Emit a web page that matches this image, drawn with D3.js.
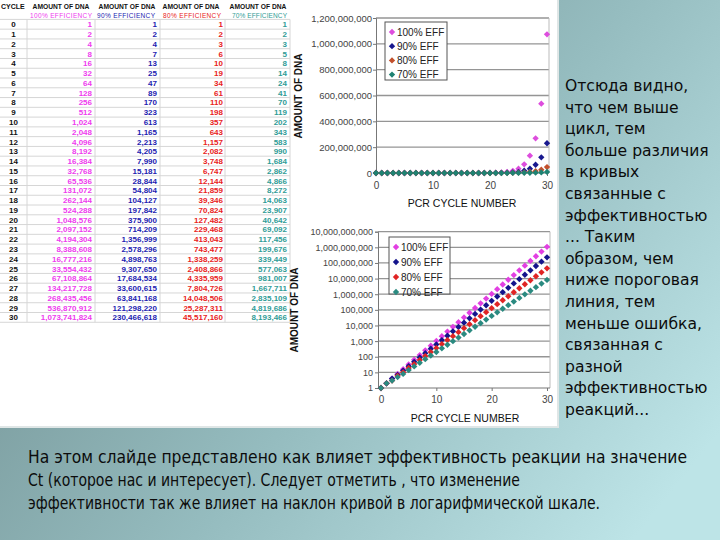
<!DOCTYPE html>
<html><head><meta charset="utf-8">
<script src="https://cdn.jsdelivr.net/npm/d3@7"></script>
<style>body{margin:0;background:#fff}svg{display:block}</style>
</head><body>
<svg id="c" width="720" height="540"></svg>
<script>
// ---------- DATA ----------
const cycles = [0,1,2,3,4,5,6,7,8,9,10,11,12,13,14,15,16,17,18,19,20,21,22,23,24,25,26,27,28,29,30];
const eff100 = [1,2,4,8,16,32,64,128,256,512,1024,2048,4096,8192,16384,32768,65536,131072,262144,524288,1048576,2097152,4194304,8388608,16777216,33554432,67108864,134217728,268435456,536870912,1073741824];
const eff90 = [1,2,4,7,13,25,47,89,170,323,613,1165,2213,4205,7990,15181,28844,54804,104127,197842,375900,714209,1356999,2578296,4898763,9307650,17684534,33600615,63841168,121298220,230466618];
const eff80 = [1,2,3,6,10,19,34,61,110,198,357,643,1157,2082,3748,6747,12144,21859,39346,70824,127482,229468,413043,743477,1338259,2408866,4335959,7804726,14048506,25287311,45517160];
const eff70 = [1,2,3,5,8,14,24,41,70,119,202,343,583,990,1684,2862,4866,8272,14063,23907,40642,69092,117456,199676,339449,577063,981007,1667711,2835109,4819686,8193466];
const seriesNames = ["100% EFF","90% EFF","80% EFF","70% EFF"];
const tableHeads = ["100% EFFICIENCY","90% EFFICIENCY","80% EFFICIENCY","70% EFFICIENCY"];
const linearTicks = [0,200000000,400000000,600000000,800000000,1000000000,1200000000];
const logTicks = [1,10,100,1000,10000,100000,1000000,10000000,100000000,1000000000,10000000000];
const xTicks = [0,10,20,30];
const axisTitleX = "PCR CYCLE NUMBER";
const axisTitleY = "AMOUNT OF DNA";
const sideText = ["Отсюда видно,","что чем выше","цикл, тем","больше различия","в кривых","связанные с","эффективностью","... Таким","образом, чем","ниже пороговая","линия, тем","меньше ошибка,","связанная с","разной","эффективностью","реакций..."];
const bottomText = ["На этом слайде представлено как влияет эффективность реакции на значение","Ct (которое нас и интересует). Следует отметить , что изменение","эффективности так же влияет на  наклон кривой в логарифмической шкале."];

const allSeries = [eff100, eff90, eff80, eff70];
const tableColors = ["#ee3cee","#1c1cb0","#e82222","#2f9c96"];
const topColors = ["#dd4ddd","#18188e","#c2502c","#1f8272"];
const botColors = ["#e23fe2","#14148c","#e02424","#2a8a80"];

const svg = d3.select("#c");
const defs = svg.append("defs");
const grad = defs.append("linearGradient").attr("id","bg").attr("x1","0").attr("y1","0.2").attr("x2","1").attr("y2","0.8");
grad.append("stop").attr("offset","0").attr("stop-color","#6f8d8f");
grad.append("stop").attr("offset","0.55").attr("stop-color","#95bcbf");
grad.append("stop").attr("offset","1").attr("stop-color","#bde4e7");
svg.append("rect").attr("width",720).attr("height",540).attr("fill","url(#bg)");
svg.append("rect").attr("x",0).attr("y",0).attr("width",559).attr("height",428).attr("fill","#dfe6e6");
svg.append("rect").attr("x",0).attr("y",0).attr("width",557).attr("height",426).attr("fill","#fff");

// ---------- TABLE ----------
const fmt = d3.format(",");
const tbl = svg.append("g").attr("font-family","'Liberation Sans',Arial,sans-serif").attr("font-weight","bold");
const colRight = [92,157,223,287];
const colDiv = [27,95,160,225,290];
const rowTop = 19.4, rowH = 9.77;
cycles.concat([31]).forEach((c,i)=>{
  tbl.append("line").attr("x1",0).attr("x2",290).attr("y1",rowTop+rowH*i).attr("y2",rowTop+rowH*i).attr("stroke","#d6d6d6").attr("stroke-width",1);
});
colDiv.forEach(x=>tbl.append("line").attr("x1",x).attr("x2",x).attr("y1",rowTop).attr("y2",rowTop+rowH*31).attr("stroke","#d6d6d6"));
tbl.append("text").attr("x",1).attr("y",9).attr("font-size",7).attr("fill","#111").text("CYCLE");
const headCenter = [61,127,191,258];
headCenter.forEach(cx=>tbl.append("text").attr("x",cx).attr("y",9).attr("text-anchor","middle").attr("font-size",6.7).attr("fill","#111").text(axisTitleY));
const subSpan = [[30,92],[97,155],[163,221],[232,287]];
subSpan.forEach((s,k)=>tbl.append("text").attr("x",s[0]).attr("y",17.5).attr("font-size",6.5).attr("font-weight","normal").attr("textLength",s[1]-s[0]).attr("lengthAdjust","spacing").attr("fill",tableColors[k]).text(tableHeads[k]));
cycles.forEach((c,i)=>{
  const y = rowTop + rowH*i + rowH/2 + 3;
  tbl.append("text").attr("x",13.5).attr("y",y).attr("text-anchor","middle").attr("font-size",8).attr("fill","#111").text(c);
  allSeries.forEach((s,k)=>{
    tbl.append("text").attr("x",colRight[k]).attr("y",y).attr("text-anchor","end").attr("font-size",8).attr("fill",tableColors[k]).text(fmt(s[i]));
  });
});

// ---------- CHART HELPERS ----------
const diamond = d3.symbol(d3.symbolSquare, 20);
function legend(gp, x, y, w, h, pitch, colors){
  const lg = gp.append("g");
  lg.append("rect").attr("x",x).attr("y",y).attr("width",w).attr("height",h).attr("fill","#fff").attr("stroke","#555").attr("stroke-width",1);
  seriesNames.forEach((n,k)=>{
    const cy = y + 10 + pitch*k;
    lg.append("path").attr("d",diamond()).attr("transform",`translate(${x+7},${cy}) rotate(45)`).attr("fill",colors[k]);
    lg.append("text").attr("x",x+12).attr("y",cy+3.5).attr("font-size",10).attr("fill","#222").text(n);
  });
}
const font = "'Liberation Sans',Arial,sans-serif";

// ---------- TOP CHART (linear) ----------
const topG = svg.append("g").attr("font-family",font);
const xT = d3.scaleLinear().domain([0,30]).range([376,547]);
const yT = d3.scaleLinear().domain([0,1200000000]).range([173,18]);
topG.append("g").selectAll("line").data(linearTicks.slice(1)).join("line")
  .attr("x1",376).attr("x2",549).attr("y1",d=>yT(d)).attr("y2",d=>yT(d)).attr("stroke","#959595").attr("stroke-width",1.3);
topG.append("line").attr("x1",549).attr("x2",549).attr("y1",18).attr("y2",173).attr("stroke","#bbb");
topG.append("g").attr("transform","translate(0,173)").call(d3.axisBottom(xT).tickValues(xTicks).tickSize(3).tickPadding(6))
  .call(a=>{a.select(".domain").attr("stroke","#777").attr("d","M376,0H549");a.selectAll("line").attr("stroke","#777");a.selectAll("text").attr("font-size",10).attr("font-family",font).attr("fill","#444");});
topG.append("g").attr("transform","translate(376,0)").call(d3.axisLeft(yT).tickValues(linearTicks).tickFormat(fmt).tickSize(3).tickPadding(1))
  .call(a=>{a.select(".domain").attr("stroke","#777");a.selectAll("line").attr("stroke","#777");a.selectAll("text").attr("font-size",9.5).attr("font-family",font).attr("fill","#444");});
allSeries.forEach((s,k)=>{
  topG.append("g").selectAll("path").data(cycles).join("path").attr("d",diamond())
    .attr("transform",(c,i)=>`translate(${xT(c)},${yT(s[i])}) rotate(45)`).attr("fill",topColors[k]);
});
legend(topG,385,22,62,58,14.2,topColors);
topG.append("text").attr("x",462).attr("y",207).attr("text-anchor","middle").attr("font-size",10.5).attr("fill","#111").text(axisTitleX);
topG.append("text").attr("transform","translate(302,96) rotate(-90)").attr("text-anchor","middle").attr("font-size",10).attr("font-weight","bold").attr("fill","#111").text(axisTitleY);

// ---------- BOTTOM CHART (log) ----------
const botG = svg.append("g").attr("font-family",font);
const xB = d3.scaleLinear().domain([0,30]).range([381,547]);
const yB = d3.scaleLog().domain([1,10000000000]).range([388,231.7]);
botG.append("g").selectAll("line").data(logTicks.slice(1)).join("line")
  .attr("x1",378).attr("x2",550).attr("y1",d=>yB(d)).attr("y2",d=>yB(d)).attr("stroke","#959595").attr("stroke-width",1.3);
botG.append("line").attr("x1",550).attr("x2",550).attr("y1",231.7).attr("y2",388).attr("stroke","#bbb");
botG.append("g").attr("transform","translate(0,388)").call(d3.axisBottom(xB).tickValues(xTicks).tickSize(3).tickPadding(5))
  .call(a=>{a.select(".domain").attr("stroke","#777").attr("d","M378,0H550");a.selectAll("line").attr("stroke","#777");a.selectAll("text").attr("font-size",10).attr("font-family",font).attr("fill","#444");});
botG.append("g").attr("transform","translate(378,0)").call(d3.axisLeft(yB).tickValues(logTicks).tickFormat(fmt).tickSize(3).tickPadding(2))
  .call(a=>{a.select(".domain").attr("stroke","#777");a.selectAll("line").attr("stroke","#777");a.selectAll("text").attr("font-size",9).attr("font-family",font).attr("fill","#444");});
allSeries.forEach((s,k)=>{
  botG.append("g").selectAll("path").data(cycles).join("path").attr("d",diamond())
    .attr("transform",(c,i)=>`translate(${xB(c)},${yB(s[i])}) rotate(45)`).attr("fill",botColors[k]);
});
legend(botG,389,237,61,57,15,botColors);
botG.append("text").attr("x",465).attr("y",422).attr("text-anchor","middle").attr("font-size",10.5).attr("fill","#111").text(axisTitleX);
botG.append("text").attr("transform","translate(298,310) rotate(-90)").attr("text-anchor","middle").attr("font-size",10).attr("font-weight","bold").attr("fill","#111").text(axisTitleY);

// ---------- SLIDE TEXT ----------
const side = svg.append("g").attr("font-family","'DejaVu Sans',Verdana,sans-serif").attr("font-size",15.6).attr("fill","#0c0c0c");
sideText.forEach((t,i)=>side.append("text").attr("x",565).attr("y",91+21.6*i).text(t));
const bt = svg.append("g").attr("font-family","'DejaVu Sans Condensed','DejaVu Sans',sans-serif").attr("font-size",17).attr("fill","#0c0c0c");
const btLen = [659,492,572];
bottomText.forEach((t,i)=>bt.append("text").attr("x",28).attr("y",463+23*i).attr("textLength",btLen[i]).attr("lengthAdjust","spacingAndGlyphs").text(t));
</script>
</body></html>
